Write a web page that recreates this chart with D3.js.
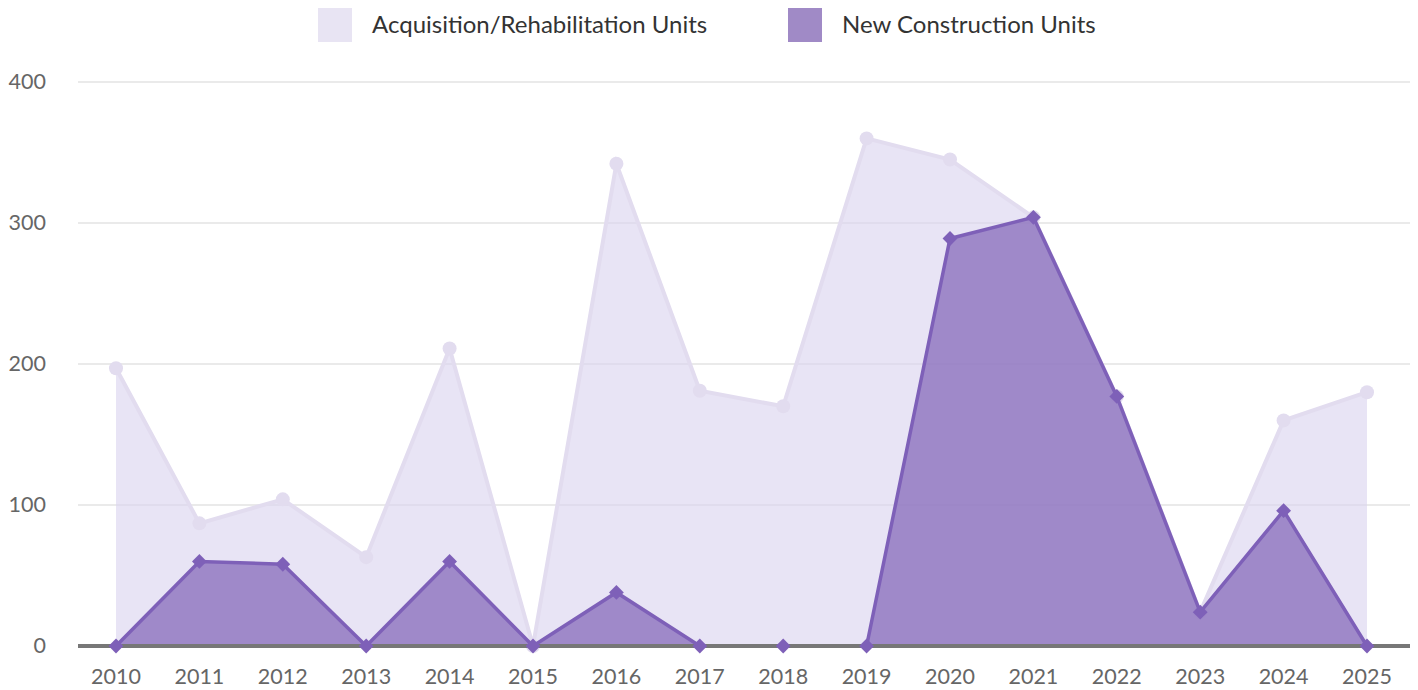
<!DOCTYPE html>
<html>
<head>
<meta charset="utf-8">
<style>
  body { margin: 0; background: #fff; }
  text { font-family: Lato, "Open Sans", sans-serif; }
</style>
</head>
<body>
<script src="https://cdn.jsdelivr.net/npm/d3@7"></script>
<script>
var years = ["2010","2011","2012","2013","2014","2015","2016","2017","2018","2019","2020","2021","2022","2023","2024","2025"];
// stacked series: new construction at the bottom, acquisition/rehab on top
var newUnits = [0, 60, 58, 0, 60, 0, 38, 0, 0, 0, 289, 304, 177, 24, 96, 0];
var acqUnits = [197, 27, 46, 63, 151, 0, 304, 181, 170, 360, 56, 0, 0, 0, 64, 180];
var yTicks = [0, 100, 200, 300, 400];
var seriesNames = ["Acquisition/Rehabilitation Units", "New Construction Units"];

var width = 1418, height = 690;
var svg = d3.select("body").append("svg").attr("width", width).attr("height", height);

var rows = years.map(function(y, i){ return {year: y, nc: newUnits[i], ar: acqUnits[i]}; });
var stacked = d3.stack().keys(["nc", "ar"])(rows);

var x = d3.scalePoint().domain(years).range([116, 1367]);
var y = d3.scaleLinear().domain([0, 400]).range([646, 82]);

// grid
svg.append("g").selectAll("line").data(yTicks.filter(d => d > 0)).join("line")
  .attr("x1", 78).attr("x2", 1410)
  .attr("y1", d => y(d)).attr("y2", d => y(d))
  .attr("stroke", "#e3e3e3").attr("stroke-width", 1.5);

svg.append("g").selectAll("text").data(yTicks).join("text")
  .attr("x", 46).attr("y", d => y(d) + 7)
  .attr("text-anchor", "end").attr("font-size", 21.5).attr("fill", "#666")
  .text(d => d);

var area = d3.area().x(d => x(d.data.year)).y0(y(0)).y1(d => y(d[1]));
var line = d3.line().x(d => x(d.data.year)).y(d => y(d[1]));

// acquisition (top of stack), drawn behind
var ar = stacked[1];
svg.append("path").datum(ar).attr("d", area)
  .attr("fill", "#d9d2ee").attr("fill-opacity", 0.6);
svg.append("path").datum(ar).attr("d", line)
  .attr("fill", "none").attr("stroke", "#e2dcef").attr("stroke-width", 4);
svg.append("g").selectAll("circle").data(ar).join("circle")
  .attr("cx", d => x(d.data.year)).attr("cy", d => y(d[1]))
  .attr("r", 7).attr("fill", "#e2dcef");

// new construction
var nc = stacked[0];
svg.append("path").datum(nc).attr("d", area)
  .attr("fill", "#8b6fbd").attr("fill-opacity", 0.78);
svg.append("path").datum(nc).attr("d", line)
  .attr("fill", "none").attr("stroke", "#7e60b8").attr("stroke-width", 3.5);

// baseline
svg.append("line").attr("x1", 78).attr("x2", 1410)
  .attr("y1", y(0)).attr("y2", y(0))
  .attr("stroke", "#777").attr("stroke-width", 4);

svg.append("g").selectAll("path").data(nc).join("path")
  .attr("d", d3.symbol().type(d3.symbolSquare).size(110))
  .attr("transform", d => "translate(" + x(d.data.year) + "," + y(d[1]) + ") rotate(45)")
  .attr("fill", "#7e60b8");

// x labels
svg.append("g").selectAll("text").data(years).join("text")
  .attr("x", d => x(d)).attr("y", 684)
  .attr("text-anchor", "middle").attr("font-size", 21.5).attr("fill", "#666")
  .text(d => d);

// legend
var legend = [
  {name: seriesNames[0], color: "#e8e4f3", x: 318},
  {name: seriesNames[1], color: "#a08ac6", x: 788}
];
var lg = svg.append("g").selectAll("g").data(legend).join("g");
lg.append("rect").attr("x", d => d.x).attr("y", 8).attr("width", 34).attr("height", 34)
  .attr("fill", d => d.color);
lg.append("text").attr("x", d => d.x + 54).attr("y", 33)
  .attr("font-size", 24).attr("fill", "#333").text(d => d.name);
</script>
</body>
</html>
